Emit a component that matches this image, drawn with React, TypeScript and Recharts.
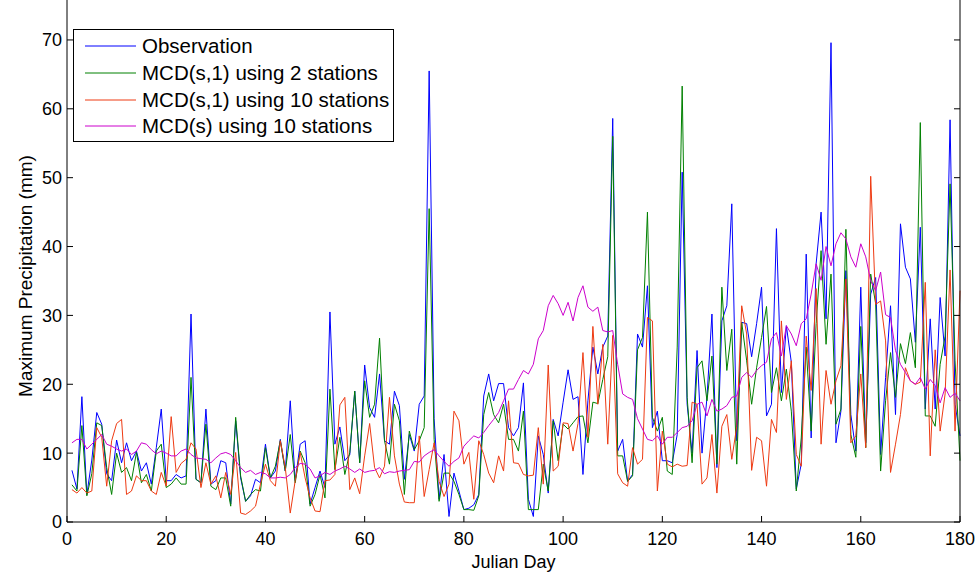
import { LineChart, Line, XAxis, YAxis } from 'recharts'

// Julian day 1..180
const days: number[] = Array.from({ length: 180 }, (_, i) => i + 1)

const observation = [
7.5,4.8,18.2,4,9,15.9,14.2,7,6,11.9,8.6,11.5,8.9,10.3,7.4,8.6,5.5,10.8,16.4,6,
6,6.9,6.4,6.7,30.2,6.2,5.7,16.4,5.5,6,8.9,8.6,2.6,14.7,6.4,3,3.8,6.2,5.7,11.3,
6.4,7.4,12,7.4,17.6,6,11.3,11.8,2.6,5,7.4,5,30.5,11.3,13.8,8.9,9.8,19,8.6,22.8,
16.6,15.2,21.5,11.8,11.3,19,16.9,6.2,12.7,10.3,17.1,18.3,65.5,15,3.3,9.8,0.8,7.1,4.5,1.8,
2,2.5,4,18.3,21.5,17.6,20.1,20.1,13.7,12.5,13.7,20.2,3.3,0.8,12.5,9.8,4.2,14.9,12.5,17.4,
22.1,17.8,18.2,6.9,17.6,25.4,21.5,25.4,27,58.6,10.3,12,5.9,6.9,27.3,25.4,34.3,13.7,16.1,8.9,
8.9,8.6,12.7,50.8,17.1,10,24.9,10,18.1,30.2,7.9,29.2,31.4,46.2,11.8,29,28.8,24,28.8,34.1,
15.4,17.1,42.6,18.8,28.5,23.2,4.8,8.4,38.9,12.2,37.5,45,29.5,69.6,11.5,16.1,36.5,15.6,10.3,34.1,
11.5,33.1,35.5,9.8,21,31.4,15.6,43.3,37,35.3,26.1,42.8,16.4,29.5,16.4,32.6,24.1,58.4,17.1,12.5,
]

const mcd2 = [
5.4,4.5,14,3.8,7,14.4,14,7.9,4,10,7.2,7.9,6,10.1,5.7,6.9,4.5,10.3,11.3,5,
5.5,6.4,5.5,5.5,21,6.2,5.7,14.2,5.2,4.7,6.4,6.4,2.3,15.2,6.7,3,4,4.7,4.5,10.8,
6.4,8.1,11.8,7.4,12.7,5.7,10.3,8.6,2.3,4,6.9,3.5,19.3,7.6,12.3,6.9,10.1,19,8.6,20.5,
15.2,17.1,26.7,11.8,8.4,17.1,14.7,4,13.2,10.5,11.8,13.7,45.5,12,3,7.1,7.1,5.9,4,1.8,
1.8,1.7,3.8,15.6,18.8,15.6,14.4,17.1,12,12,10.3,16.1,1.8,1.8,1.8,8.4,4.5,14.7,8.9,14.2,
13.5,14.4,15.3,15.4,11.5,17.4,17.2,20.7,24,56,9.6,9.6,5.9,6.7,25,26.8,45,15.2,13.2,15.2,
7.4,6.9,25.4,63.3,18.1,8.6,22.4,23.4,17.6,24.1,8.4,34.1,22,28,8.4,29,23.4,17.1,22.4,26.8,
31.3,18.8,22.4,17.6,22.2,16.1,4.5,12.2,25.4,13.2,28.8,39.4,25.8,36,14.2,16.4,42.5,12.7,9.4,28.4,
10.8,36,31.7,7.4,17.6,24.6,18.1,25.9,23,27.5,22.4,58,15.4,15.4,13.9,22.9,27,49.1,23.4,8.9,
]

const mcd10 = [
4.7,4.2,5,4.2,4.5,13.7,12.3,5.2,11.8,14.3,14.9,4,4.5,6.7,6,6,4.5,4,7.2,5.2,
15.3,7.2,8.5,9.1,11.5,10.6,5,8.6,5.5,6.7,3.5,7.2,4,10.1,1.3,1.1,1.6,2.3,5.5,8.4,
6,5.2,11.8,7.9,1.3,6,10.1,6.4,3.5,1.6,1.5,6,6.1,6.9,17,18.1,4.7,6.4,4.1,9.6,
14.3,7.9,6.4,8.1,18.1,9.6,5.5,2.9,2.8,2.8,12.5,3.7,7.6,11.5,5.9,3.7,5.5,16.1,14.7,8.4,
10.1,3.3,11.8,9.8,7.1,5.7,9.6,7.4,17.6,8.6,8.5,6.9,6.7,6.8,13.7,5.5,22.8,7.4,8.1,14.4,
14.3,10.3,14.3,24.6,12.3,28.4,17.1,25.8,11.3,27.1,7,5.7,5.2,10.8,8.4,9.1,29.7,29.2,4.5,13.2,
8.4,8,8.4,8.1,8.2,17.4,17.1,5.5,6.4,12.7,4.2,13.9,15.6,9.1,13.9,31.4,27.3,7.5,12.3,11.8,
5.2,14.9,13,29.2,17.8,23.4,9.8,8.1,27,19.1,33.9,11.3,22,17.1,20.5,22.7,35.3,11.5,12.5,21.5,
10.8,50.2,31.6,32.1,26.3,7.2,11.3,15.6,22.4,20.5,20,20.3,34.8,9.6,25,13.2,18.6,36.6,13.2,33.6,
]

const mcdS10 = [
11.5,12,12,10.6,11.3,12,12.7,11.3,11,10.6,10.3,10.6,9.8,10.3,11.5,11.3,10.5,9.9,10.3,10,
9.6,9.6,10.3,10.6,9.8,9.3,9.2,9.1,8.6,9.3,9.9,10.1,9.8,8.9,7.9,7.2,7.5,6.9,7.2,7,
6.4,6.4,6.5,6.4,6.9,7.9,8.5,8.4,7.7,6.4,6.7,7.2,6.9,7.4,7.7,8.1,7.7,7.2,7.7,7.2,
7.4,7.5,7.9,7,7.3,7.2,7.4,7.5,7.6,8.8,8.7,9.6,10.1,10.5,9.6,8.8,8.1,8.8,9.3,11,
11.8,12.5,12.2,13,14,14.9,15.9,17.6,19.3,19.3,20.7,22,21.5,22.9,26.6,27.8,31.4,32.9,31.7,30,
31.9,29.2,32.6,34.3,31.2,30.6,31.2,27.8,27.6,27.8,22.9,18.6,18.1,17.8,15,13.5,12,11.8,12.5,11.3,
12.3,12.3,13,13.7,13.9,14.7,17.1,17.4,15.4,17.8,16.1,16.4,16.9,18.1,18.3,21,21.7,21,22,22.7,
23.2,26.6,27.5,24.1,28.5,27.3,25.6,28.8,29.5,33.1,37.5,35.1,40,37.2,40.4,42,41.1,38.5,37,40.4,
38.5,35,33.6,36.3,30.1,29.7,24.9,22.9,21.7,20.5,20,21,19.3,20.7,19.8,17.3,19.5,18.1,18.7,17.6,
]

const xTicks = [0, 20, 40, 60, 80, 100, 120, 140, 160, 180]
const yTicks = [0, 10, 20, 30, 40, 50, 60, 70]

const series = [
  { key: 'obs', name: 'Observation', color: '#0000ff' },
  { key: 'mcd2', name: 'MCD(s,1) using 2 stations', color: '#008000' },
  { key: 'mcd10', name: 'MCD(s,1) using 10 stations', color: '#ee3a12' },
  { key: 'mcds10', name: 'MCD(s) using 10 stations', color: '#cc00cc' },
]

const data = days.map((d, i) => ({
  day: d,
  obs: observation[i],
  mcd2: mcd2[i],
  mcd10: mcd10[i],
  mcds10: mcdS10[i],
}))

const font = '"Liberation Sans", Arial, Helvetica, sans-serif'

function LegendBox() {
  return (
    <div style={{
      position: 'absolute', left: 73, top: 29, width: 321, height: 113,
      boxSizing: 'border-box', border: '1px solid #000', background: '#fff',
      paddingTop: 3, fontFamily: font, fontSize: 20.5, color: '#000'
    }}>
      {series.map(s => (
        <div key={s.key} style={{ display: 'flex', alignItems: 'center', height: 26.7 }}>
          <svg width={57} height={10} style={{ marginLeft: 11 }}>
            <line x1={0} y1={5} x2={51} y2={5} stroke={s.color} strokeWidth={1} />
          </svg>
          <span style={{ whiteSpace: 'nowrap' }}>{s.name}</span>
        </div>
      ))}
    </div>
  )
}

export default function App() {
  return (
    <div style={{ position: 'absolute', left: 0, top: 0, width: 979, height: 574, background: '#fff' }}>
      <LineChart width={979} height={574} data={data}
        margin={{ top: 0, right: 0, bottom: 0, left: 0 }}
        style={{ fontFamily: font }}>
        <XAxis dataKey="day" type="number" domain={[0, 180]} ticks={xTicks}
          height={52} tickSize={-6} tickMargin={16}
          stroke="#000" tick={{ fill: '#000', fontSize: 18 }}
          label={{ value: 'Julian Day', position: 'insideBottom', offset: 6, fill: '#000', fontSize: 18 }} />
        <YAxis domain={[0, 75.8]} ticks={yTicks} width={67}
          tickSize={-6} tickMargin={11} allowDataOverflow
          stroke="#000" tick={{ fill: '#000', fontSize: 18 }}
          label={{ value: 'Maximum Precipitation (mm)', angle: -90, position: 'center', dx: -8, dy: 15, fill: '#000', fontSize: 19 }} />
        {/* right side of the box, inward ticks only */}
        <YAxis yAxisId="r" orientation="right" domain={[0, 75.8]} ticks={yTicks} width={19}
          tickSize={-6} tickFormatter={() => ''} allowDataOverflow stroke="#000" />
        <Line yAxisId="r" dataKey="obs" stroke="none" dot={false} activeDot={false}
          legendType="none" isAnimationActive={false} />
        {series.map(s => (
          <Line key={s.key} type="linear" dataKey={s.key} name={s.name}
            stroke={s.color} strokeWidth={1} dot={false} isAnimationActive={false} />
        ))}
      </LineChart>
      <LegendBox />
    </div>
  )
}
